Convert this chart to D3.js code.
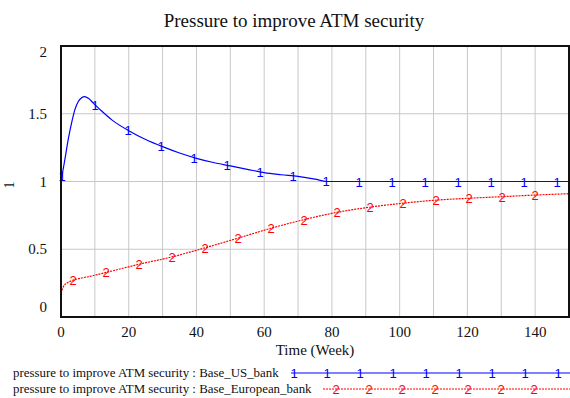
<!DOCTYPE html>
<html>
<head>
<meta charset="utf-8">
<script src="https://cdn.jsdelivr.net/npm/d3@7"></script>
<style>
  body { margin: 0; background: #fff; }
  text { font-family: "Liberation Serif", "Times New Roman", serif; }
  .mark { font-family: "Liberation Sans", Arial, sans-serif; }
</style>
</head>
<body>
<div id="chart"></div>
<script>
// weeks and values
var usWeeks   = [0, 1.2, 2.2, 3.2, 4.1, 5.1, 6.1, 7, 8.1, 9.5, 12, 15, 20, 25, 30, 35, 40, 45, 50, 55, 60, 65, 70, 75, 78.5, 150];
var usValues  = [1.0, 1.17, 1.32, 1.44, 1.53, 1.59, 1.618, 1.627, 1.614, 1.58, 1.52, 1.455, 1.375, 1.31, 1.257, 1.21, 1.171, 1.14, 1.115, 1.09, 1.065, 1.05, 1.038, 1.017, 1.0, 1.0];
var euWeeks   = [0, 0.7, 1.7, 3.2, 5, 8, 13, 23, 33, 43, 52, 62, 72, 81, 91, 101, 111, 121, 131, 140, 150];
var euValues  = [0.175, 0.224, 0.249, 0.268, 0.282, 0.297, 0.327, 0.389, 0.445, 0.514, 0.58, 0.655, 0.72, 0.77, 0.81, 0.84, 0.863, 0.877, 0.889, 0.9, 0.91];
var xTicks    = [0, 20, 40, 60, 80, 100, 120, 140];
var yTicks    = [0, 0.5, 1, 1.5, 2];
var seriesNames = ["pressure to improve ATM security : Base_US_bank",
                   "pressure to improve ATM security : Base_European_bank"];

var width = 570, height = 398;
var margin = {top: 46, right: 1, bottom: 81, left: 61};

var svg = d3.select("#chart").append("svg")
    .attr("width", width)
    .attr("height", height);

var x = d3.scaleLinear().domain([0, 150]).range([margin.left, width - margin.right]);
var y = d3.scaleLinear().domain([0, 2]).range([height - margin.bottom, margin.top]);

// grid
svg.append("g").selectAll("line")
    .data(d3.range(10, 150, 10))
  .enter().append("line")
    .attr("x1", function(d) { return x(d); })
    .attr("x2", function(d) { return x(d); })
    .attr("y1", y(0)).attr("y2", y(2))
    .attr("stroke", "#c8c8c8").attr("stroke-width", 1);

svg.append("g").selectAll("line")
    .data([0.5, 1, 1.5])
  .enter().append("line")
    .attr("x1", x(0)).attr("x2", x(150))
    .attr("y1", function(d) { return y(d); })
    .attr("y2", function(d) { return y(d); })
    .attr("stroke", "#c8c8c8").attr("stroke-width", 1);

// tick labels
svg.append("g").selectAll("text")
    .data(xTicks)
  .enter().append("text")
    .attr("x", function(d) { return x(d); })
    .attr("y", y(0) + 20)
    .attr("text-anchor", "middle")
    .attr("font-size", 15)
    .attr("fill", "#111")
    .text(function(d) { return d; });

// vensim pulls the end labels inward
var yLabelShift = {0: -10, 2: 6};
svg.append("g").selectAll("text")
    .data(yTicks)
  .enter().append("text")
    .attr("x", 47)
    .attr("y", function(d) { return y(d) + 5 + (yLabelShift[d] || 0); })
    .attr("text-anchor", "end")
    .attr("font-size", 15)
    .attr("fill", "#111")
    .text(function(d) { return d; });

svg.append("text")
    .attr("x", 315).attr("y", 355)
    .attr("text-anchor", "middle")
    .attr("font-size", 15)
    .attr("fill", "#111")
    .text("Time (Week)");

svg.append("text")
    .attr("transform", "translate(14,185) rotate(-90)")
    .attr("text-anchor", "middle")
    .attr("font-size", 14)
    .attr("fill", "#111")
    .text("1");

svg.append("text")
    .attr("x", 294).attr("y", 27)
    .attr("text-anchor", "middle")
    .attr("font-size", 19)
    .attr("fill", "#111")
    .text("Pressure to improve ATM security");

// lines
function toPoints(ws, vs) {
    return ws.map(function(w, i) { return [w, vs[i]]; });
}
function valueAt(ws, vs, t) {
    for (var i = 1; i < ws.length; i++) {
        if (t <= ws[i]) {
            var f = (t - ws[i-1]) / (ws[i] - ws[i-1]);
            return vs[i-1] + f * (vs[i] - vs[i-1]);
        }
    }
    return vs[vs.length - 1];
}

var line = d3.line()
    .x(function(d) { return x(d[0]); })
    .y(function(d) { return y(d[1]); })
    .curve(d3.curveMonotoneX);

var series = [
    {w: usWeeks, v: usValues, color: "#0000ff", dash: null, label: "1", start: 62},
    {w: euWeeks, v: euValues, color: "#ff0000", dash: "2,1", label: "2", start: 73}
];

series.forEach(function(s) {
    svg.append("path")
        .datum(toPoints(s.w, s.v))
        .attr("d", line)
        .attr("fill", "none")
        .attr("stroke", s.color)
        .attr("stroke-width", 1.2)
        .attr("stroke-dasharray", s.dash);

    var px = d3.range(s.start, x(150) - 2, 33);
    svg.append("g").selectAll("text")
        .data(px)
      .enter().append("text")
        .attr("class", "mark")
        .attr("x", function(d) { return d; })
        .attr("y", function(d) { return y(valueAt(s.w, s.v, x.invert(d))) + 5; })
        .attr("text-anchor", "middle")
        .attr("font-size", 13)
        .attr("fill", s.color)
        .text(s.label);
});

// frame
svg.append("rect")
    .attr("x", x(0)).attr("y", y(2))
    .attr("width", x(150) - x(0)).attr("height", y(0) - y(2))
    .attr("fill", "none")
    .attr("stroke", "#111")
    .attr("stroke-width", 2);

// legend
var legendY = [373, 389];
var legendStart = [291, 323];
var legendMarkStart = [294, 336];
series.forEach(function(s, i) {
    svg.append("text")
        .attr("x", 13).attr("y", legendY[i] + 4)
        .attr("font-size", 12.9)
        .attr("fill", "#111")
        .text(seriesNames[i]);
    svg.append("line")
        .attr("x1", legendStart[i]).attr("x2", width)
        .attr("y1", legendY[i]).attr("y2", legendY[i])
        .attr("stroke", s.color)
        .attr("stroke-width", 1.2)
        .attr("stroke-dasharray", s.dash);
    svg.append("g").selectAll("text")
        .data(d3.range(legendMarkStart[i], width - 3, 33))
      .enter().append("text")
        .attr("class", "mark")
        .attr("x", function(d) { return d; })
        .attr("y", legendY[i] + 5)
        .attr("text-anchor", "middle")
        .attr("font-size", 13)
        .attr("fill", s.color)
        .text(s.label);
});
</script>
</body>
</html>
